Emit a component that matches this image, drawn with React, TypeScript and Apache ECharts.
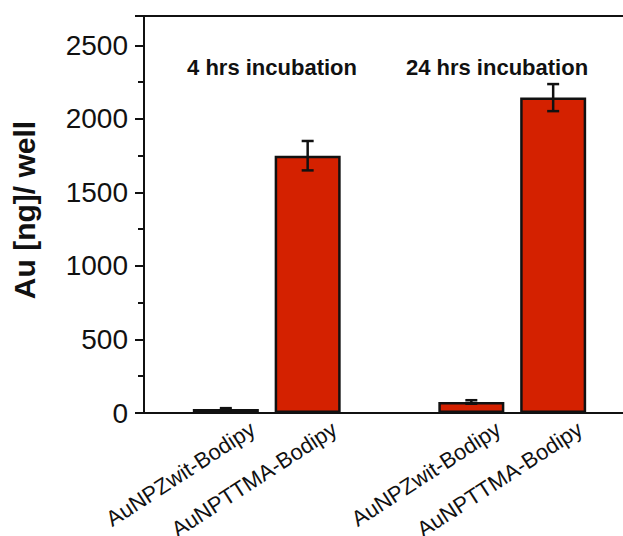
import React, { useEffect, useRef } from "react";
import * as echarts from "echarts";

const categories = ["AuNPZwit-Bodipy", "AuNPTTMA-Bodipy", "AuNPZwit-Bodipy", "AuNPTTMA-Bodipy"];
const positions = [1, 2, 4, 5];
const values = [27, 1750, 75, 2145];
const errors = [6, 100, 12, 92];
const groupLabels = ["4 hrs incubation", "24 hrs incubation"];
const yTitle = "Au [ng]/ well";

const FONT = "'Liberation Sans', Arial, Helvetica, sans-serif";

export default function App() {
  const ref = useRef<HTMLDivElement>(null);
  useEffect(() => {
    if (!ref.current) return;
    const chart = echarts.init(ref.current, null, { renderer: "svg" });
    const barData = positions.map((p, i) => [p, values[i]]);
    const errData = positions.map((p, i) => [p, values[i], errors[i]]);
    const labelData = positions.map((p) => [p, 0]);
    chart.setOption({
      animation: false,
      backgroundColor: "#ffffff",
      grid: {
        left: 144,
        top: 16,
        width: 491,
        height: 397,
        show: true,
        borderColor: "#111",
        borderWidth: 2,
        backgroundColor: "transparent",
      },
      xAxis: {
        type: "value",
        min: 0,
        max: 6,
        interval: 1,
        axisLine: { show: true, lineStyle: { color: "#111", width: 2 } },
        axisTick: { show: false },
        axisLabel: { show: false },
        splitLine: { show: false },
      },
      yAxis: [
        {
          type: "value",
          min: 0,
          max: 2700,
          interval: 500,
          axisLine: { show: true, lineStyle: { color: "#111", width: 2 } },
          axisTick: { show: true, length: 9, lineStyle: { color: "#111", width: 2 } },
          axisLabel: {
            margin: 16,
            fontSize: 28,
            color: "#111",
            fontFamily: FONT,
            formatter: (v: number) => (v % 500 === 0 ? String(v) : ""),
          },
          splitLine: { show: false },
        },
        {
          type: "value",
          min: 0,
          max: 2700,
          interval: 250,
          position: "left",
          axisLine: { show: false },
          axisTick: { show: true, length: 6, lineStyle: { color: "#111", width: 2 } },
          axisLabel: { show: false },
          splitLine: { show: false },
        },
      ],
      graphic: [
        {
          type: "text",
          x: 24,
          y: 210,
          rotation: Math.PI / 2,
          style: {
            text: yTitle,
            align: "center",
            verticalAlign: "middle",
            font: `bold 30px ${FONT}`,
            fill: "#111",
          },
        },
        {
          type: "text",
          x: 272,
          y: 67,
          style: {
            text: groupLabels[0],
            align: "center",
            verticalAlign: "middle",
            font: `bold 22px ${FONT}`,
            fill: "#111",
          },
        },
        {
          type: "text",
          x: 497,
          y: 67,
          style: {
            text: groupLabels[1],
            align: "center",
            verticalAlign: "middle",
            font: `bold 22px ${FONT}`,
            fill: "#111",
          },
        },
      ],
      series: [
        {
          type: "bar",
          data: barData,
          barWidth: 66,
          itemStyle: { color: "#d42100", borderColor: "#111", borderWidth: 2.5 },
          z: 2,
        },
        {
          type: "custom",
          data: errData,
          z: 5,
          clip: false,
          renderItem: (params: any, api: any) => {
            const x = api.value(0);
            const v = api.value(1);
            const e = api.value(2);
            const top = api.coord([x, v + e]);
            const bot = api.coord([x, v - e]);
            const cap = 6;
            const style = { stroke: "#111", lineWidth: 2.5 };
            return {
              type: "group",
              children: [
                { type: "line", shape: { x1: top[0], y1: top[1], x2: bot[0], y2: bot[1] }, style },
                { type: "line", shape: { x1: top[0] - cap, y1: top[1], x2: top[0] + cap, y2: top[1] }, style },
                { type: "line", shape: { x1: bot[0] - cap, y1: bot[1], x2: bot[0] + cap, y2: bot[1] }, style },
              ],
            };
          },
        },
        {
          type: "custom",
          data: labelData,
          z: 5,
          clip: false,
          renderItem: (params: any, api: any) => {
            const pt = api.coord([api.value(0), 0]);
            return {
              type: "text",
              x: pt[0] + 27,
              y: pt[1] + 14,
              rotation: (33 * Math.PI) / 180,
              style: {
                text: categories[params.dataIndex],
                align: "right",
                verticalAlign: "middle",
                font: `22px ${FONT}`,
                fill: "#111",
              },
            };
          },
        },
      ],
    });
    return () => chart.dispose();
  }, []);
  return (
    <div style={{ position: "absolute", left: 0, top: 0, width: 623, height: 536, overflow: "hidden", background: "#fff" }}>
      <div ref={ref} style={{ width: 660, height: 536 }} />
    </div>
  );
}
